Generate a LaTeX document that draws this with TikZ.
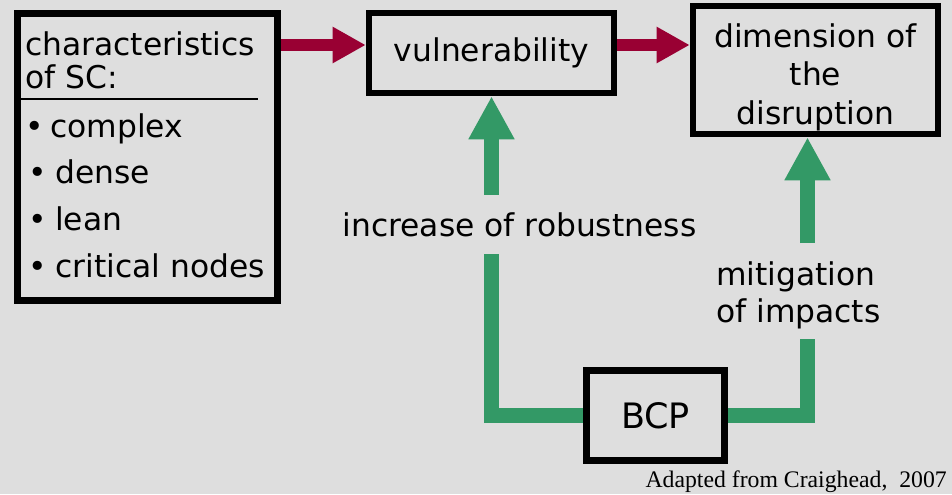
\documentclass[tikz,border=0pt]{standalone}
\usepackage{fontspec}
\setmainfont{DejaVu Sans}
\newfontfamily\notefont{Liberation Serif}
\usetikzlibrary{arrows.meta,positioning}
\definecolor{slidegray}{RGB}{222,222,222}
\definecolor{scred}{RGB}{153,0,51}
\definecolor{scgreen}{RGB}{51,153,102}
\newcommand\scbullet[1]{\makebox[#1][l]{•}}

\begin{document}
\begin{tikzpicture}[x=0.75pt,y=-0.75pt,
  boxnode/.style={draw,line width=4.9pt,inner sep=0pt,font=\fontsize{23.5}{28.9}\selectfont},
  txt/.style={inner sep=0pt,font=\fontsize{23.5}{27.75}\selectfont},
  redarrow/.style={draw=scred,line width=9pt,-{Triangle[length=24.75pt,width=25.5pt]}},
  greenline/.style={draw=scgreen,line width=11.25pt},
  greenarrow/.style={greenline,-{Triangle[length=32.25pt,width=32.25pt]}}]
  \useasboundingbox (0,0) rectangle (952,494);
  \fill[slidegray] (0,0) rectangle (952,494);

  % boxes
  \node[boxnode,minimum width=195pt,minimum height=215.25pt] (charbox) at (147.5,157) {};
  \node[boxnode,minimum width=183.75pt,minimum height=60pt] (vul) at (491.5,53) {vulnerability};
  \node[boxnode,minimum width=183.75pt,minimum height=96pt,align=center] (dim) at (815.5,70)
    {\rule{0pt}{28.4pt}dimension of\\the\\disruption};
  \node[boxnode,minimum width=103.5pt,minimum height=67.5pt,font=\fontsize{26.25}{30}\selectfont]
    (bcp) at (655.5,415.5) {BCP};

  % contents of the left box
  \node[txt,anchor=north west,align=left,font=\fontsize{23.5}{24.75}\selectfont] (charhead)
    at (25,31.2) {characteristics\\of SC:};
  \draw[line width=1.5pt] (charbox.west |- 0,99) -- +(244,0);
  \foreach \entry/\xx/\ww/\yy [count=\i] in {complex/25/18.75/137,dense/28/20.25/183.5,
      lean/28/20.25/230,critical nodes/28/20.25/277}
    \node[txt,anchor=base west] (item\i) at (\xx,\yy) {\scbullet{\ww pt}\entry};

  % red arrows
  \coordinate (redrow) at (0,45);
  \draw[redarrow] (charbox.east |- redrow) -- (vul.west |- redrow);
  \draw[redarrow] (vul.east |- redrow) -- (dim.west |- redrow);

  % green arrows and their labels
  \node[txt,inner ysep=12.9pt,anchor=base] (robust) at (519.5,236) {increase of robustness};
  \node[txt,inner ysep=13.65pt,anchor=north west,align=left] (mitig) at (716,243)
    {mitigation\\of impacts};
  \coordinate (mitx) at (807.5,0);
  \draw[greenline] (bcp.west) -| (vul.south |- robust.south);
  \draw[greenarrow] (vul.south |- robust.north) -- (vul.south);
  \draw[greenline] (bcp.east) -| ([yshift=6.5pt]mitig.south -| mitx);
  \draw[greenarrow] (mitig.north -| mitx) -- (mitx |- dim.south);

  \node[anchor=base east,inner sep=0pt,font=\notefont\fontsize{17.8}{20}\selectfont] (source)
    at (947,487) {Adapted from Craighead,\ \ 2007};
\end{tikzpicture}
\end{document}
